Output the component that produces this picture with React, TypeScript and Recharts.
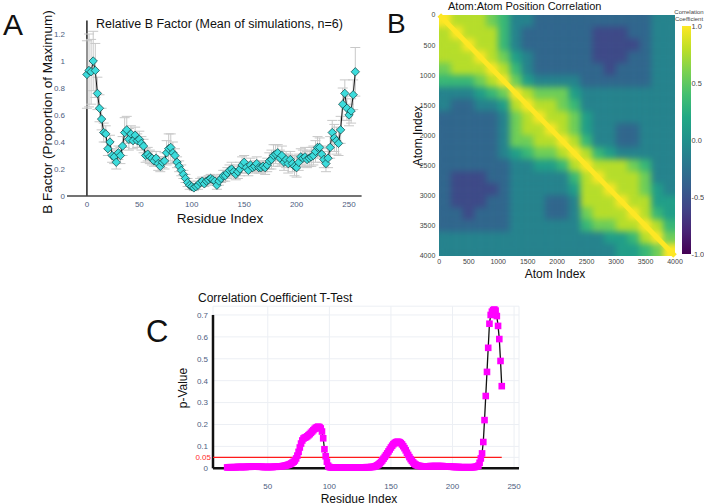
import {
  ComposedChart,
  BarChart,
  Bar,
  Line,
  Scatter,
  XAxis,
  YAxis,
  CartesianGrid,
  ReferenceLine,
  ReferenceArea,
  ErrorBar,
} from 'recharts';

const FONT = '"Liberation Sans", Arial, Helvetica, sans-serif';
const TICK_BLUE = '#4d5d80';

// ---- Panel A: relative B factor, one point every 2 residues ----
const bStartResidue = 0;
const bStep = 2;
const bFactor = [
  0.9, 0.93, 0.92, 1.0, 0.93, 0.76, 0.65, 0.57, 0.47, 0.46,
  0.35, 0.4, 0.3, 0.29, 0.25, 0.32, 0.3, 0.37, 0.47, 0.49,
  0.42, 0.46, 0.41, 0.45, 0.41, 0.42, 0.39, 0.37, 0.3, 0.31,
  0.29, 0.28, 0.26, 0.28, 0.24, 0.22, 0.25, 0.26, 0.32, 0.35,
  0.36, 0.32, 0.3, 0.25, 0.22, 0.19, 0.16, 0.13, 0.1, 0.08,
  0.07, 0.06, 0.07, 0.08, 0.1, 0.11, 0.09, 0.11, 0.12, 0.13,
  0.12, 0.11, 0.08, 0.11, 0.13, 0.15, 0.15, 0.17, 0.19, 0.2,
  0.18, 0.16, 0.18, 0.2, 0.23, 0.25, 0.21, 0.19, 0.23, 0.21,
  0.22, 0.24, 0.21, 0.21, 0.22, 0.21, 0.23, 0.26, 0.27, 0.3,
  0.31, 0.32, 0.28, 0.3, 0.25, 0.27, 0.24, 0.27, 0.24, 0.22,
  0.21, 0.25, 0.29, 0.28, 0.29, 0.27, 0.28, 0.29, 0.3, 0.33,
  0.36, 0.36, 0.31, 0.27, 0.24, 0.28, 0.36, 0.47, 0.43, 0.41,
  0.39, 0.49, 0.68, 0.76, 0.65, 0.6, 0.63, 0.75, 0.92,
];
const bError = [
  0.25, 0.27, 0.24, 0.22, 0.2,
  0.12, 0.1, 0.08, 0.07, 0.06,
  0.05, 0.05, 0.05, 0.05, 0.05, 0.05, 0.06, 0.07,
  0.11, 0.1, 0.08,
  0.06, 0.06, 0.06, 0.05, 0.06, 0.05, 0.05, 0.05,
  0.05, 0.05, 0.05, 0.04, 0.05, 0.05, 0.04, 0.04,
  0.06, 0.09, 0.11, 0.1, 0.08,
  0.05, 0.04, 0.04, 0.04, 0.03, 0.03, 0.03, 0.03,
  0.02, 0.02, 0.02, 0.03, 0.03, 0.03, 0.02, 0.03, 0.03, 0.03, 0.03, 0.03, 0.03, 0.03, 0.03,
  0.04, 0.04, 0.04, 0.04, 0.05, 0.04, 0.04, 0.05, 0.05, 0.06, 0.05, 0.04, 0.04, 0.05, 0.04, 0.04, 0.05, 0.04, 0.04, 0.04, 0.05,
  0.05, 0.06, 0.07, 0.08, 0.07, 0.06, 0.06, 0.07, 0.06, 0.06, 0.07, 0.06, 0.06, 0.07, 0.07, 0.06, 0.06, 0.06, 0.07, 0.06,
  0.06, 0.07, 0.07, 0.08, 0.08, 0.07, 0.06, 0.06, 0.06, 0.07, 0.08, 0.09, 0.1, 0.1, 0.09,
  0.1, 0.12, 0.1, 0.09, 0.08, 0.09, 0.11, 0.18,
];
const bTicksX = [0, 50, 100, 150, 200, 250];
const bTicksY = [0, 0.2, 0.4, 0.6, 0.8, 1, 1.2];

// ---- Panel B: atom/atom correlation, 200-atom bins ----
// digit 0..9 -> correlation -1..1; upper triangle stored, mirrored below
const atomBin = 200;
const atomMax = 4000;
const atomTicks = [0, 500, 1000, 1500, 2000, 2500, 3000, 3500, 4000];
const corrRows = [
  '98887644333333333344',
  '.9888643333332223344',
  '..988643333332222344',
  '...98754333332223344',
  '....9864333333233344',
  '.....975444433333344',
  '......98777544444444',
  '.......9887644444444',
  '........988754444444',
  '.........98754433444',
  '..........9864433444',
  '...........986544444',
  '............98887644',
  '.............9888744',
  '..............988754',
  '...............98855',
  '................9865',
  '.................986',
  '..................97',
  '...................9',
];
const corrTicks = [-1, -0.5, 0, 0.5, 1];

// ---- Panel C: p-values per residue ----
const pStartResidue = 17;
const pValues = [
  0.004, 0.004, 0.005, 0.005, 0.005, 0.005, 0.005, 0.005, 0.006, 0.006, 0.006, 0.006, 0.006, 0.006,
  0.006, 0.006, 0.007, 0.007, 0.007, 0.007, 0.008, 0.008, 0.008, 0.008,
  0.008, 0.008, 0.007, 0.007, 0.007, 0.006, 0.006, 0.006, 0.006, 0.006,
  0.006, 0.006, 0.006, 0.006, 0.007, 0.007, 0.007, 0.008, 0.008, 0.009, 0.009, 0.01,
  0.011, 0.012, 0.013, 0.015, 0.017, 0.019, 0.022, 0.026,
  0.03, 0.036, 0.045, 0.058, 0.075, 0.095, 0.113, 0.127, 0.136, 0.14,
  0.142, 0.146, 0.151, 0.156, 0.162, 0.168, 0.174, 0.18, 0.185, 0.188, 0.19,
  0.188, 0.182, 0.168, 0.137, 0.087, 0.055, 0.03, 0.012, 0.006,
  0.004, 0.004, 0.003, 0.003, 0.003, 0.003, 0.003, 0.003, 0.003, 0.003,
  0.003, 0.003, 0.003, 0.003, 0.003, 0.003, 0.003, 0.003, 0.003, 0.003,
  0.003, 0.003, 0.003, 0.004, 0.004, 0.004, 0.004, 0.004, 0.004, 0.005,
  0.005, 0.005, 0.005, 0.006, 0.006,
  0.007, 0.009, 0.011, 0.014, 0.018,
  0.023, 0.029, 0.036, 0.044, 0.052, 0.06, 0.068, 0.077, 0.086, 0.095,
  0.103, 0.11, 0.115, 0.119, 0.121, 0.121, 0.119, 0.115, 0.109, 0.101,
  0.092, 0.082, 0.071, 0.061, 0.051, 0.042, 0.034, 0.027, 0.021, 0.017,
  0.014, 0.012, 0.011, 0.01,
  0.009, 0.009, 0.009, 0.009, 0.009, 0.009, 0.009, 0.01, 0.01, 0.01,
  0.01, 0.01, 0.01, 0.01, 0.01, 0.01, 0.01, 0.01, 0.009, 0.009,
  0.009, 0.008, 0.008, 0.008, 0.007, 0.007,
  0.006, 0.006, 0.006, 0.006, 0.006, 0.005, 0.005, 0.005, 0.005, 0.005,
  0.005, 0.005, 0.005, 0.005, 0.005, 0.005, 0.005, 0.006, 0.007, 0.009,
  0.012, 0.025, 0.045, 0.068, 0.12, 0.22, 0.33, 0.44, 0.55, 0.66,
  0.7, 0.715, 0.722, 0.725, 0.72, 0.695, 0.65, 0.59, 0.49, 0.375,
];
const pTicksX = [50, 100, 150, 200, 250];
const pTicksY = [0, 0.05, 0.1, 0.2, 0.3, 0.4, 0.5, 0.6, 0.7];
const pThreshold = 0.05;

// viridis colormap
const viridisStops = [
  '#440154', '#482475', '#414487', '#355f8d', '#2a788e', '#21918c',
  '#22a884', '#44bf70', '#7ad151', '#bddf26', '#fde725',
];

function hexToRgb(h: string) {
  return [1, 3, 5].map((i) => parseInt(h.slice(i, i + 2), 16));
}

function viridis(t: number) {
  const s = Math.max(0, Math.min(1, t)) * 10;
  const i = Math.min(9, Math.floor(s));
  const f = s - i;
  const a = hexToRgb(viridisStops[i]);
  const b = hexToRgb(viridisStops[i + 1]);
  const c = a.map((v, k) => Math.round(v + (b[k] - v) * f));
  return `rgb(${c[0]},${c[1]},${c[2]})`;
}

const bData = bFactor.map((v, i) => ({ res: bStartResidue + i * bStep, b: v, err: bError[i] }));
const pData = pValues.map((v, i) => ({ res: pStartResidue + i, p: v }));

const nBins = corrRows.length;
const cells: { x: number; y: number; r: number; c: number; fill: string }[] = [];
for (let r = 0; r < nBins; r++) {
  for (let c = 0; c < nBins; c++) {
    const level = Number(corrRows[Math.min(r, c)][Math.max(r, c)]);
    cells.push({ x: (c + 0.5) * atomBin, y: (r + 0.5) * atomBin, r, c, fill: viridis(level / 9) });
  }
}

const Diamond = (props: any) => {
  const { cx, cy, index } = props;
  if (cx == null || cy == null) return <g key={index} />;
  const h = 4.2;
  return (
    <path
      key={index}
      d={`M${cx},${cy - h}L${cx + h},${cy}L${cx},${cy + h}L${cx - h},${cy}Z`}
      fill="#3cdcdc"
      stroke="#0e3c3c"
      strokeWidth={0.7}
    />
  );
};

const Square = (props: any) => {
  const { cx, cy, index } = props;
  if (cx == null || cy == null) return <g key={index} />;
  const h = 3.3;
  return <rect key={index} x={cx - h} y={cy - h} width={h * 2} height={h * 2} fill="#ff00ff" />;
};

const PTick = (props: any) => {
  const { x, y, payload } = props;
  const red = payload.value === pThreshold;
  return (
    <text
      x={red ? x + 3 : x}
      y={y}
      dy="0.355em"
      textAnchor="end"
      fontSize={8}
      fontFamily={FONT}
      fill={red ? '#ff2b2b' : TICK_BLUE}
    >
      {String(payload.value)}
    </text>
  );
};

const Nothing = () => <g />;

// heatmap chart geometry (plot rect at x 439.3..675, y 15..256)
const HEAT_LEFT = 380;
const heatMargin = { top: 15, right: 15, bottom: 6, left: 39.3 };

export default function App() {
  const blueTick = { fontSize: 8, fill: TICK_BLUE, fontFamily: FONT };
  const grayTick = { fontSize: 7, fill: '#444', fontFamily: FONT };

  return (
    <div
      style={{
        position: 'absolute',
        left: 0,
        top: 0,
        width: 704,
        height: 504,
        background: '#fff',
        overflow: 'hidden',
        fontFamily: FONT,
      }}
    >
      <svg width={0} height={0} style={{ position: 'absolute' }}>
        <defs>
          <filter id="heatSoft" x="-10%" y="-10%" width="120%" height="120%" colorInterpolationFilters="sRGB">
            <feGaussianBlur stdDeviation="3.2" />
            <feComponentTransfer>
              <feFuncA type="linear" slope="40" intercept="0" />
            </feComponentTransfer>
          </filter>
        </defs>
      </svg>

      {/* A: B factor */}
      <div style={{ position: 'absolute', left: 0, top: 0 }}>
        <ComposedChart width={370} height={230} data={bData} margin={{ top: 20.5, right: 8.4, bottom: 14, left: 47 }}>
          <XAxis
            type="number"
            dataKey="res"
            domain={[-19, 262]}
            ticks={bTicksX}
            interval={0}
            height={20}
            tickLine={false}
            tickSize={0}
            tickMargin={5}
            axisLine={{ stroke: '#444', strokeWidth: 1.6 }}
            tick={blueTick}
          />
          <YAxis
            type="number"
            domain={[0, 1.3]}
            ticks={bTicksY}
            interval={0}
            width={20}
            axisLine={false}
            tickLine={false}
            tickSize={0}
            tickMargin={2}
            tick={blueTick}
          />
          <ReferenceLine x={0} stroke="#111" strokeWidth={1.4} />
          <Line type="linear" dataKey="b" stroke="#111" strokeWidth={1} dot={Diamond} isAnimationActive={false}>
            <ErrorBar dataKey="err" width={5} stroke="#c8c8c8" strokeWidth={1} direction="y" />
          </Line>
        </ComposedChart>
      </div>

      {/* B: correlation heatmap cells, softened and clipped to the plot rect */}
      <div style={{ position: 'absolute', left: 439.3, top: 15, width: 235.7, height: 241, overflow: 'hidden' }}>
        <div style={{ position: 'absolute', left: -59.3, top: -15, filter: 'url(#heatSoft)' }}>
          <ComposedChart width={310} height={276} data={cells} margin={{ ...heatMargin, left: 59.3, bottom: 20 }}>
            <XAxis type="number" dataKey="x" domain={[0, atomMax]} hide />
            <YAxis type="number" dataKey="y" domain={[0, atomMax]} reversed hide />
            {cells.map((cell) => (
              <ReferenceArea
                key={`${cell.r}-${cell.c}`}
                x1={cell.c * atomBin}
                x2={(cell.c + 1) * atomBin}
                y1={cell.r * atomBin}
                y2={(cell.r + 1) * atomBin}
                fill={cell.fill}
                fillOpacity={1}
                stroke={cell.fill}
                strokeWidth={0.6}
              />
            ))}
            <Scatter dataKey="y" shape={Nothing} legendType="none" isAnimationActive={false} />
          </ComposedChart>
        </div>
      </div>

      {/* B: axes and the self-correlation diagonal */}
      <div style={{ position: 'absolute', left: HEAT_LEFT, top: 0 }}>
        <ComposedChart width={310} height={276} data={cells} margin={heatMargin}>
          <XAxis
            type="number"
            dataKey="x"
            domain={[0, atomMax]}
            ticks={atomTicks}
            interval={0}
            height={14}
            axisLine={false}
            tickLine={false}
            tickSize={0}
            tickMargin={3.5}
            tick={grayTick}
          />
          <YAxis
            type="number"
            dataKey="y"
            domain={[0, atomMax]}
            reversed
            ticks={atomTicks}
            interval={0}
            width={20}
            axisLine={false}
            tickLine={false}
            tickSize={0}
            tickMargin={4}
            tick={grayTick}
          />
          <ReferenceLine
            segment={[
              { x: 0, y: 0 },
              { x: atomMax, y: atomMax },
            ]}
            stroke={viridisStops[10]}
            strokeWidth={5}
          />
          <Scatter dataKey="y" shape={Nothing} legendType="none" isAnimationActive={false} />
        </ComposedChart>
      </div>

      {/* B: colour bar */}
      <div style={{ position: 'absolute', left: 676, top: 0 }}>
        <BarChart
          width={28}
          height={270}
          data={[{ k: 'scale', range: [corrTicks[0], corrTicks[corrTicks.length - 1]] }]}
          margin={{ top: 26, right: 0, bottom: 16, left: 6 }}
          barCategoryGap={0}
        >
          <defs>
            <linearGradient id="viridisBar" x1="0" y1="1" x2="0" y2="0">
              {viridisStops.map((c, i) => (
                <stop key={c} offset={`${i * 10}%`} stopColor={c} />
              ))}
            </linearGradient>
          </defs>
          <XAxis dataKey="k" hide />
          <YAxis
            orientation="right"
            type="number"
            domain={[-1, 1]}
            ticks={corrTicks}
            interval={0}
            width={13}
            axisLine={false}
            tickLine={false}
            tickSize={0}
            tickMargin={0.5}
            tickFormatter={(v: number) => v.toFixed(1)}
            tick={{ fontSize: 7.4, fill: '#444', fontFamily: FONT }}
          />
          <Bar dataKey="range" fill="url(#viridisBar)" isAnimationActive={false} />
        </BarChart>
      </div>

      {/* C: t-test p-values */}
      <div style={{ position: 'absolute', left: 150, top: 290 }}>
        <ComposedChart width={380} height={214} data={pData} margin={{ top: 16.2, right: 11, bottom: 5.7, left: 33 }}>
          <CartesianGrid stroke="#eceff4" strokeWidth={1} />
          <XAxis
            type="number"
            dataKey="res"
            domain={[5.5, 254]}
            ticks={pTicksX}
            interval={0}
            height={30}
            tickLine={false}
            tickSize={0}
            tickMargin={15}
            axisLine={{ stroke: '#111', strokeWidth: 2.5 }}
            tick={blueTick}
          />
          <YAxis
            type="number"
            domain={[0, 0.74]}
            ticks={pTicksY}
            interval={0}
            width={30}
            axisLine={false}
            tickLine={false}
            tickSize={0}
            tickMargin={5}
            tick={PTick}
          />
          <ReferenceLine
            segment={[
              { x: 5.5, y: 0 },
              { x: 5.5, y: 0.7 },
            ]}
            stroke="#111"
            strokeWidth={2.5}
          />
          <ReferenceLine
            segment={[
              { x: 5.5, y: pThreshold },
              { x: pStartResidue + pValues.length - 1, y: pThreshold },
            ]}
            stroke="#ff1a1a"
            strokeWidth={1.3}
          />
          <Line type="linear" dataKey="p" stroke="#111" strokeWidth={1.3} dot={Square} isAnimationActive={false} />
        </ComposedChart>
      </div>

      {/* titles, panel letters, axis labels */}
      <svg width={704} height={504} style={{ position: 'absolute', left: 0, top: 0, pointerEvents: 'none' }}>
        <g fontFamily={FONT} fill="#111">
          <text x={3} y={35} fontSize={30}>A</text>
          <text x={96} y={28} fontSize={12.5}>Relative B Factor (Mean of simulations, n=6)</text>
          <text x={220} y={223} fontSize={13.5} textAnchor="middle">Residue Index</text>
          <text x={52} y={112} fontSize={13.5} textAnchor="middle" transform="rotate(-90 52 112)">
            B Factor (Proportion of Maximum)
          </text>

          <text x={387} y={33} fontSize={28}>B</text>
          <text x={448} y={9.5} fontSize={11}>Atom:Atom Position Correlation</text>
          <text x={555} y={277.5} fontSize={12} textAnchor="middle">Atom Index</text>
          <text x={421.5} y={136} fontSize={12} textAnchor="middle" transform="rotate(-90 421.5 136)">
            Atom Index
          </text>
          <text x={689} y={14} fontSize={6} fill="#444" textAnchor="middle">Correlation</text>
          <text x={689} y={21} fontSize={6} fill="#444" textAnchor="middle">Coefficient</text>

          <text x={146} y={342} fontSize={31}>C</text>
          <text x={198} y={301.7} fontSize={12}>Correlation Coefficient T-Test</text>
          <text x={359} y={502.5} fontSize={12} textAnchor="middle">Residue Index</text>
          <text x={187} y={388} fontSize={12} textAnchor="middle" transform="rotate(-90 187 388)">
            p-Value
          </text>
        </g>
      </svg>
    </div>
  );
}
